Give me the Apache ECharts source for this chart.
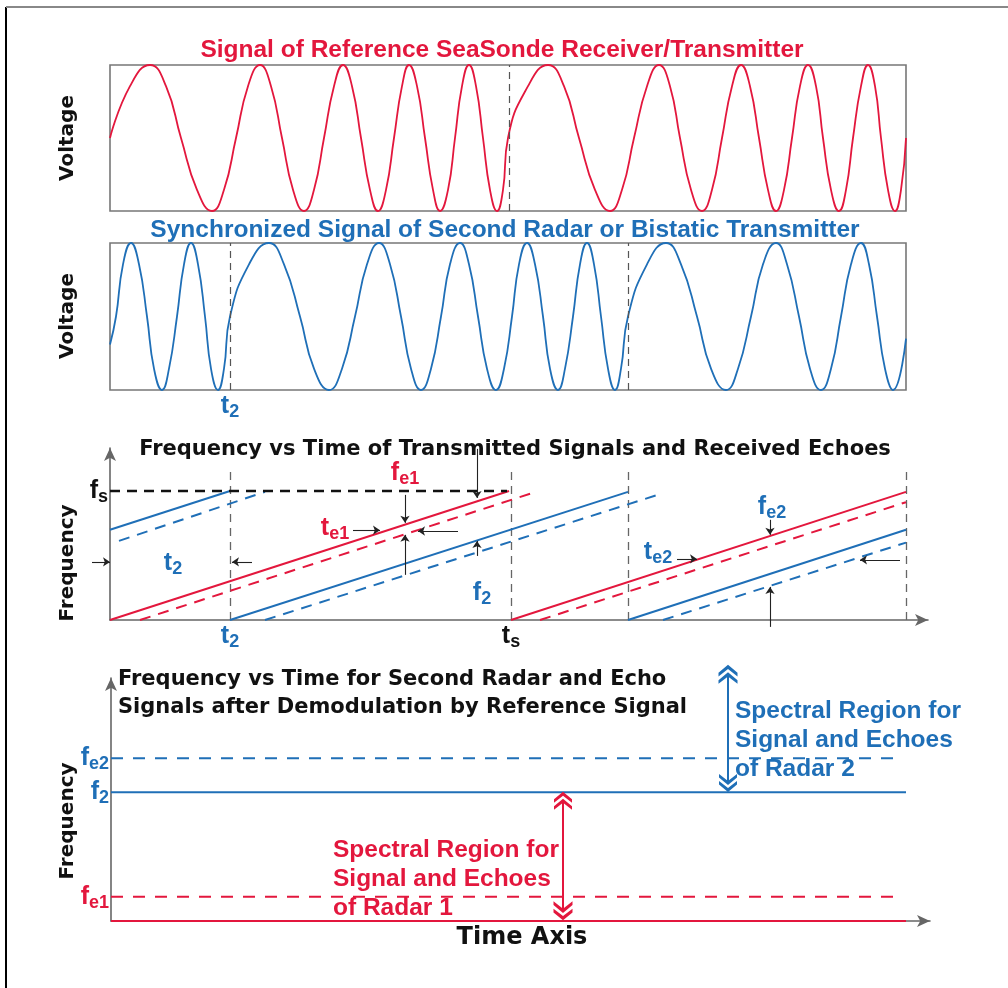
<!DOCTYPE html>
<html><head><meta charset="utf-8">
<script src="https://cdn.jsdelivr.net/npm/echarts@6/dist/echarts.min.js"></script>
<style>html,body{margin:0;padding:0;background:#fff}#c{width:1008px;height:988px}</style>
</head><body><div id="c"></div>
<script>
// ---------- data ----------
// Panel 1: reference SeaSonde chirp, [time, voltage]
const refSignal = [
  [0,0],[20,.71],[40,1],[56,.71],[71,0],[87,-.71],[102,-1],[114,-.71],[126,0],[138,.71],[150,1],[161,.71],
  [172,0],[183,-.71],[194,-1],[204,-.71],[214,0],[224,.71],[233,1],[242,.71],[251,0],[260,-.71],[268,-1],
  [276,-.71],[284,0],[292,.71],[299,1],[307,.71],[315,0],[323,-.71],[330,-1],[338,-.71],[345,0],[352,.71],
  [359,1],[366,.71],[373,0],[380,-.71],[387,-1],[393,-.71],[398,0],
  [418,.71],[438,1],[454,.71],[469,0],[485,-.71],[500,-1],[512,-.71],[524,0],[537,.71],[549,1],[560,.71],
  [570,0],[581,-.71],[592,-1],[602,-.71],[612,0],[622,.71],[631,1],[640,.71],[649,0],[658,-.71],[666,-1],
  [674,-.71],[682,0],[690,.71],[698,1],[706,.71],[713,0],[721,-.71],[729,-1],[736,-.71],[743,0],[751,.71],
  [758,1],[765,.71],[771,0],[778,-.71],[785,-1],[791,-.71],[796,0]
];
const refSweepEnd = [399];
// Panel 2: second radar chirp, [time, voltage]
const secSignal = [
  [0,-.38],[6,0],[13,.71],[21,1],[29,.71],[37,0],[44,-.71],[52,-1],[59,-.71],[67,0],[74,.71],[81,1],[88,.71],
  [95,0],[101,-.71],[108,-1],[114,-.71],[120,0],
  [139,.71],[159,1],[174,.71],[190,0],[204,-.71],[219,-1],[232,-.71],[245,0],[257,.71],[269,1],[280,.71],
  [291,0],[301,-.71],[311,-1],[321,-.71],[331,0],[340,.71],[350,1],[359,.71],[368,0],[377,-.71],[386,-1],
  [394,-.71],[402,0],[409,.71],[417,1],[425,.71],[433,0],[440,-.71],[448,-1],[455,-.71],[463,0],[470,.71],
  [477,1],[484,.71],[491,0],[498,-.71],[505,-1],[511,-.71],[518,0],
  [537,.71],[556,1],[571,.71],[587,0],[601,-.71],[616,-1],[628,-.71],[641,0],[653,.71],[666,1],[677,.71],
  [689,0],[700,-.71],[711,-1],[721,-.71],[731,0],[741,.71],[751,1],[759,.71],[767,0],[775,-.71],[783,-1],[796,-.3]
];
const secSweepStarts = [120, 518];
// Panel 3: frequency vs time sweeps (segments of [t, f])
const refChirp = [[[0,0],[399,3]], [[401,0],[796,2.98]]];
const refEcho  = [[[30,0],[422,2.95]], [[430,0],[796,2.74]]];
const secChirp = [[[0,2.1],[120,3]], [[120,0],[518,2.98]], [[518,0],[796,2.1]]];
const secEcho  = [[[9,1.84],[155,2.98]], [[155,0],[553,2.95]], [[553,0],[796,1.8]]];
const fsLine   = [[0,3],[397,3]];
const sweepMarks = [120, 401, 518, 796];
const sweepMarkTop = 3.49;
const p3TimeTicks = [120, 401];
const p3TimeTickText = [['t','2','b'], ['t','s','k']];
const p3FreqTicks = [3];
const p3FreqTickText = [['f','s','k']];
const p3Arrows = [
  [[295,2.91],[295,2.26]], [[295,1.05],[295,1.98]],
  [[243,2.09],[270,2.09]], [[348,2.07],[308,2.07]],
  [[367,3.98],[367,2.84]],
  [[-18,1.35],[0,1.35]], [[142,1.35],[122,1.35]],
  [[367,1.49],[367,1.84]],
  [[660,2.33],[660,1.98]], [[567,1.42],[587,1.42]],
  [[790,1.40],[750,1.40]], [[660,-0.16],[660,0.77]]
];
const p3Texts = [
  [295,3.42,'f','e1','r'], [225,2.14,'t','e1','r'], [63,1.33,'t','2','b'],
  [372,0.63,'f','2','b'], [662,2.63,'f','e2','b'], [548,1.58,'t','e2','b']
];
// Panel 4: demodulated levels
const demodLevels = [0, 1, 5.3, 6.7];
const demodEnds   = [795, 786, 795, 786];
const demodColors = ['r','r','b','b'];
const demodDashed = [false, true, false, true];
const p4FreqTicks = [1, 5.3, 6.7];
const p4FreqTickText = [['f','e1','r'], ['f','2','b'], ['f','e2','b']];
const p4Regions = [[[452,0.42],[452,4.95]], [[617,10.15],[617,5.68]]];
const p4RegionColors = ['r','b'];
const p4RegionText = [
  [222,1.73,'Spectral Region for\nSignal and Echoes\nof Radar 1','r'],
  [624,7.45,'Spectral Region for\nSignal and Echoes\nof Radar 2','b']
];

// ---------- styles ----------
const RED = '#e3173d', BLUE = '#1f6fb7', INK = '#111';
const COL = {r: RED, b: BLUE, k: INK};
const SANS = 'Liberation Sans, Arial, Helvetica, sans-serif';
const DJ = 'DejaVu Sans, Verdana, sans-serif';
const rich = {};
for (const k of ['r','b','k']) {
  rich[k+'m'] = {fontFamily: SANS, fontWeight: 'bold', fontSize: 25, color: COL[k], lineHeight: 26};
  rich[k+'s'] = {fontFamily: SANS, fontWeight: 'bold', fontSize: 18, color: COL[k], padding: [12,0,0,0], lineHeight: 18};
}
const sub = a => '{' + a[2] + 'm|' + a[0] + '}{' + a[2] + 's|' + a[1] + '}';
const chev = 'path://M10 0 L20 8.5 L20 12.5 L10 4.5 L0 12.5 L0 8.5 Z M10 8 L20 16.5 L20 20.5 L10 12.5 L0 20.5 L0 16.5 Z';

const hidden = {show: false};
const axisArrow = {show: true, onZero: false, symbol: ['none','arrow'], symbolSize: [9,13],
                   lineStyle: {color: '#666', width: 1.6}};
const ghost = {color: 'rgba(0,0,0,0)', opacity: 1};

const series = [];
// panel 1
series.push({type:'line', xAxisIndex:0, yAxisIndex:0, smooth:true, showSymbol:false, clip:false,
  data: refSignal, lineStyle:{color:RED, width:1.8},
  markLine:{silent:true, symbol:'none', label:{show:false},
    lineStyle:{color:'#555', type:[7,5], width:1.2}, data: refSweepEnd.map(v=>({xAxis:v}))}});
// panel 2
series.push({type:'line', xAxisIndex:1, yAxisIndex:1, smooth:true, showSymbol:false, clip:false,
  data: secSignal, lineStyle:{color:BLUE, width:1.8},
  markLine:{silent:true, symbol:'none', label:{show:false},
    lineStyle:{color:'#555', type:[7,5], width:1.2}, data: secSweepStarts.map(v=>({xAxis:v}))}});
// panel 3 segments
const seg = (list, color, dashed) => list.forEach(s => series.push({type:'line', xAxisIndex:2, yAxisIndex:2,
  showSymbol:false, clip:false, data:s, lineStyle:{color, width:2, type: dashed ? [11,8] : 'solid'}}));
seg(refChirp, RED, false); seg(refEcho, RED, true);
seg(secChirp, BLUE, false); seg(secEcho, BLUE, true);
series.push({type:'line', xAxisIndex:2, yAxisIndex:2, showSymbol:false, clip:false, data: fsLine,
  lineStyle:{color:INK, width:2.6, type:[10,7]}});
series.push({type:'lines', coordinateSystem:'cartesian2d', xAxisIndex:2, yAxisIndex:2, clip:false, silent:true,
  symbol:['none','none'], lineStyle:{color:'#666', width:1.3, type:[8,6], opacity:1},
  data: sweepMarks.map(t=>({coords:[[t,0],[t,sweepMarkTop]]}))});
series.push({type:'lines', coordinateSystem:'cartesian2d', xAxisIndex:2, yAxisIndex:2, clip:false, silent:true, z:5,
  symbol:['none','arrow'], symbolSize:7, lineStyle:{color:'#222', width:1.1, opacity:1},
  data: p3Arrows.map(c=>({coords:c}))});
series.push({type:'scatter', xAxisIndex:2, yAxisIndex:2, symbolSize:1, itemStyle:ghost, silent:true, z:6,
  data: p3Texts.map(a=>({value:[a[0],a[1]], txt: sub([a[2],a[3],a[4]])})),
  label:{show:true, position:'inside', formatter:p=>p.data.txt, rich}});
// panel 4
demodLevels.forEach((f,i)=>series.push({type:'line', xAxisIndex:3, yAxisIndex:3, showSymbol:false, clip:false,
  data:[[0,f],[demodEnds[i],f]], lineStyle:{color:COL[demodColors[i]], width:2, type: demodDashed[i]?[12,10]:'solid'}}));
series.push({type:'lines', coordinateSystem:'cartesian2d', xAxisIndex:3, yAxisIndex:3, clip:false, silent:true, z:6,
  symbol:[chev, chev], symbolSize:[19,18],
  lineStyle:{width:2, opacity:1},
  data: p4Regions.map((c,i)=>({coords:c, lineStyle:{color:COL[p4RegionColors[i]]}, itemStyle:{color:COL[p4RegionColors[i]]}}))});
series.push({type:'scatter', xAxisIndex:3, yAxisIndex:3, symbolSize:1, itemStyle:ghost, silent:true, z:7,
  data: p4RegionText.map(a=>({value:[a[0],a[1]], txt:a[2], label:{color:COL[a[3]]}})),
  label:{show:true, position:'inside', align:'left', verticalAlign:'middle', formatter:p=>p.data.txt,
    fontFamily:SANS, fontWeight:'bold', fontSize:24.5, lineHeight:29}});

const tickLabel = (vals, texts, margin) => ({show:true, customValues: vals, margin,
  formatter: v => { const i = vals.indexOf(v); return i >= 0 ? sub(texts[i]) : ''; }, rich});

const option = {
  animation:false,
  grid:[
    {left:110, top:65, width:796, height:146, show:true, borderColor:'#777', borderWidth:1.6, backgroundColor:'transparent'},
    {left:110, top:243, width:796, height:147, show:true, borderColor:'#777', borderWidth:1.6, backgroundColor:'transparent'},
    {left:110, top:448, width:818, height:172},
    {left:111, top:678, width:819, height:243}
  ],
  xAxis:[
    {gridIndex:0, type:'value', min:0, max:796, show:false},
    {gridIndex:1, type:'value', min:0, max:796, axisLine:hidden, axisTick:hidden, splitLine:hidden,
      axisLabel: tickLabel(secSweepStarts.slice(0,1), [['t','2','b']], 3)},
    {gridIndex:2, type:'value', min:0, max:818, axisLine:axisArrow, axisTick:hidden, splitLine:hidden,
      axisLabel: tickLabel(p3TimeTicks, p3TimeTickText, 3)},
    {gridIndex:3, type:'value', min:0, max:819, axisLine:axisArrow, axisTick:hidden, splitLine:hidden, axisLabel:hidden}
  ],
  yAxis:[
    {gridIndex:0, type:'value', min:-1, max:1, show:false},
    {gridIndex:1, type:'value', min:-1, max:1, show:false},
    {gridIndex:2, type:'value', min:0, max:4, axisLine:axisArrow, axisTick:hidden, splitLine:hidden,
      axisLabel: tickLabel(p3FreqTicks, p3FreqTickText, 2)},
    {gridIndex:3, type:'value', min:0, max:10, axisLine:axisArrow, axisTick:hidden, splitLine:hidden,
      axisLabel: tickLabel(p4FreqTicks, p4FreqTickText, 2)}
  ],
  graphic:[
    {type:'line', shape:{x1:6,y1:7,x2:6,y2:988}, style:{stroke:'#000', lineWidth:2}},
    {type:'line', shape:{x1:6,y1:7,x2:1008,y2:7}, style:{stroke:'#888', lineWidth:2}},
    {type:'text', x:502, y:50, style:{text:'Signal of Reference SeaSonde Receiver/Transmitter', fill:RED,
      font:'bold 24.5px '+SANS, align:'center', verticalAlign:'middle'}},
    {type:'text', x:505, y:230, style:{text:'Synchronized Signal of Second Radar or Bistatic Transmitter', fill:BLUE,
      font:'bold 24.5px '+SANS, align:'center', verticalAlign:'middle'}},
    {type:'text', x:515, y:450, style:{text:'Frequency vs Time of Transmitted Signals and Received Echoes', fill:INK,
      font:'bold 21px '+DJ, align:'center', verticalAlign:'middle'}},
    {type:'text', x:118, y:694, style:{text:'Frequency vs Time for Second Radar and Echo\nSignals after Demodulation by Reference Signal', fill:INK,
      font:'bold 21px '+DJ, align:'left', verticalAlign:'middle', lineHeight:28}},
    {type:'text', x:522, y:938, style:{text:'Time Axis', fill:INK, font:'bold 24px '+DJ, align:'center', verticalAlign:'middle'}},
    {type:'text', x:68, y:138, rotation:Math.PI/2, style:{text:'Voltage', fill:INK, font:'bold 20px '+DJ, align:'center', verticalAlign:'middle'}},
    {type:'text', x:68, y:316, rotation:Math.PI/2, style:{text:'Voltage', fill:INK, font:'bold 20px '+DJ, align:'center', verticalAlign:'middle'}},
    {type:'text', x:68, y:563, rotation:Math.PI/2, style:{text:'Frequency', fill:INK, font:'bold 20px '+DJ, align:'center', verticalAlign:'middle'}},
    {type:'text', x:68, y:821, rotation:Math.PI/2, style:{text:'Frequency', fill:INK, font:'bold 20px '+DJ, align:'center', verticalAlign:'middle'}}
  ],
  series
};
const chart = echarts.init(document.getElementById('c'), null, {renderer:'canvas'});
chart.setOption(option);
</script></body></html>
